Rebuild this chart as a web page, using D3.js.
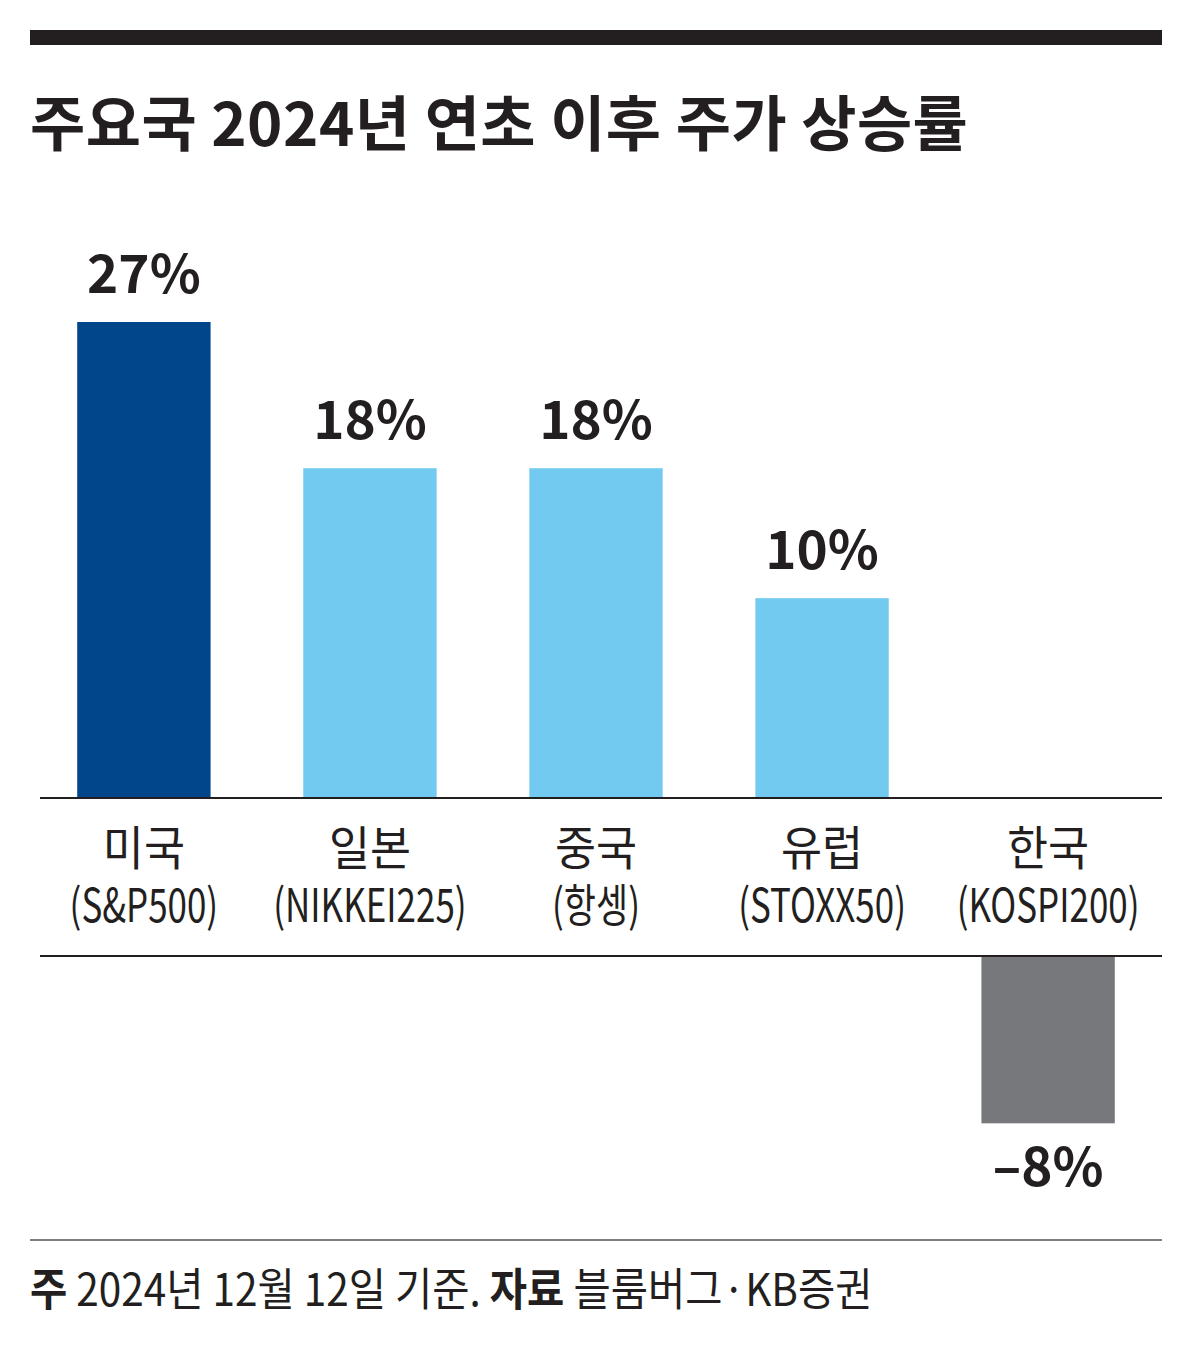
<!DOCTYPE html>
<html>
<head>
<meta charset="utf-8">
<script src="https://cdn.jsdelivr.net/npm/d3@7"></script>
<style>
  body { margin: 0; background: #fff; }
  svg text { font-family: "Noto Sans CJK KR", "Noto Sans", sans-serif; fill: #231f20; }
</style>
</head>
<body>
<div id="chart"></div>
<script>
// data
let countries = ['미국', '일본', '중국', '유럽', '한국'];
let indexNames = ['(S&P500)', '(NIKKEI225)', '(항셍)', '(STOXX50)', '(KOSPI200)'];
let returns = [27, 18, 18, 10, -8];
let valueLabels = ['27%', '18%', '18%', '10%', '\u20138%'];

let width = 1200;
let height = 1356;

let svg = d3.select('#chart').append('svg')
    .attr('width', width)
    .attr('height', height);

// top rule + title
svg.append('rect')
    .attr('x', 30).attr('y', 30)
    .attr('width', 1132).attr('height', 15)
    .attr('fill', '#231f20');

svg.append('text')
    .attr('x', 30).attr('y', 146)
    .attr('font-size', 60)
    .attr('font-weight', 700)
    .attr('letter-spacing', 0.5)
    .text('주요국 2024년 연초 이후 주가 상승률');

// scales
let x = d3.scaleBand()
    .domain(countries)
    .range([32, 1160])
    .paddingInner(0.41)
    .paddingOuter(0.2);

let posBase = 798;
let negBase = 956;

// bar length from magnitude (bars drawn from a small offset below zero)
let len = d3.scaleLinear().domain([-2.3, 27]).range([0, 476]);

let color = function(d, i) {
  if (d < 0) return '#77787c';
  return i == 0 ? '#00468a' : '#73caf0';
};

let rows = countries.map(function(c, i) {
  return {country: c, name: indexNames[i], value: returns[i], label: valueLabels[i], i: i};
});

// bars
svg.selectAll('rect.bar')
  .data(rows)
  .enter().append('rect')
    .attr('class', 'bar')
    .attr('x', function(d) { return x(d.country); })
    .attr('width', x.bandwidth())
    .attr('y', function(d) {
      return d.value >= 0 ? posBase - len(d.value) : negBase;
    })
    .attr('height', function(d) { return len(Math.abs(d.value)); })
    .attr('fill', function(d) { return color(d.value, d.i); });

// value labels
svg.selectAll('text.val')
  .data(rows)
  .enter().append('text')
    .attr('class', 'val')
    .attr('x', function(d) { return x(d.country) + x.bandwidth() / 2; })
    .attr('y', function(d) {
      return d.value >= 0 ? posBase - len(d.value) - 29 : negBase + len(Math.abs(d.value)) + 63;
    })
    .attr('text-anchor', 'middle')
    .attr('font-family', '"Noto Sans", sans-serif')
    .attr('font-size', 53)
    .attr('font-weight', 700)
    .text(function(d) { return d.label; });

// baselines
svg.append('line')
    .attr('x1', 40).attr('x2', 1162)
    .attr('y1', posBase).attr('y2', posBase)
    .attr('stroke', '#231f20').attr('stroke-width', 2);

svg.append('line')
    .attr('x1', 40).attr('x2', 1162)
    .attr('y1', negBase).attr('y2', negBase)
    .attr('stroke', '#231f20').attr('stroke-width', 2);

// category labels
let cat = svg.selectAll('g.cat')
  .data(rows)
  .enter().append('g')
    .attr('class', 'cat')
    .attr('transform', function(d) {
      return 'translate(' + (x(d.country) + x.bandwidth() / 2) + ',0)';
    });

cat.append('text')
    .attr('transform', 'translate(0,865) scale(0.95,1)')
    .attr('text-anchor', 'middle')
    .attr('font-size', 47)
    .text(function(d) { return d.country; });

cat.append('text')
    .attr('transform', 'translate(0,922) scale(0.76,1)')
    .attr('text-anchor', 'middle')
    .attr('font-size', 46)
    .text(function(d) { return d.name; });

// footer
svg.append('line')
    .attr('x1', 30).attr('x2', 1162)
    .attr('y1', 1240).attr('y2', 1240)
    .attr('stroke', '#555').attr('stroke-width', 1.5);

let foot = svg.append('text')
    .attr('transform', 'translate(30,1306) scale(0.9,1)')
    .attr('font-size', 45);
foot.append('tspan').attr('font-weight', 700).text('주');
foot.append('tspan').text(' 2024년 12월 12일 기준. ');
foot.append('tspan').attr('font-weight', 700).text('자료');
foot.append('tspan').text(' 블룸버그·KB증권');
</script>
</body>
</html>
